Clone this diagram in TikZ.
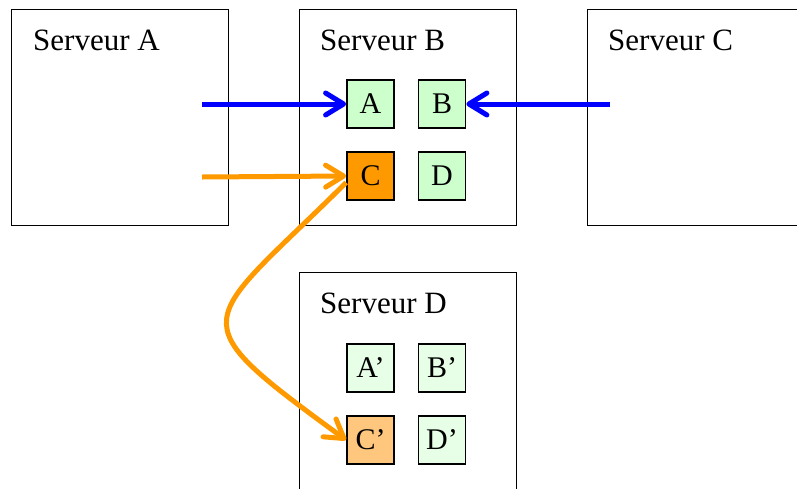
\documentclass[tikz,border=0pt]{standalone}
\usepackage{fontspec}
\setmainfont{Liberation Serif}
\usetikzlibrary{arrows.meta,calc}
\definecolor{cellgreen}{RGB}{204,255,204}
\definecolor{cellpale}{RGB}{230,255,230}
\definecolor{hotorange}{RGB}{255,153,0}
\definecolor{paleorange}{RGB}{255,198,125}
\definecolor{linkblue}{RGB}{0,0,255}
\begin{document}
\begin{tikzpicture}[x=1pt,y=-1pt,
  server/.style={draw=black,line width=1.4pt,minimum width=217pt,minimum height=216pt,inner sep=0pt,anchor=north west},
  servername/.style={anchor=base west,inner sep=0pt,font=\fontsize{31}{36}\selectfont},
  cell/.style={draw=black,line width=1.8pt,minimum width=47pt,minimum height=48pt,inner sep=0pt,font=\fontsize{30}{36}\selectfont},
  live/.style={cell,fill=cellgreen},
  copy/.style={cell,fill=cellpale},
  bluelink/.style={draw=linkblue,line width=5pt,-{Straight Barb[length=18pt,width=22pt,round]}},
  orangelink/.style={draw=hotorange,line width=5pt,-{Straight Barb[length=18pt,width=22pt,round]}}
]
\useasboundingbox (0,0) rectangle (797,488);

% servers (C and D run past the page edge)
\node[server] (SA) at (11,9) {};
\node[server] (SB) at (299,9) {};
\node[server] (SC) at (587,9) {};
\node[server,minimum height=240pt] (SD) at (299,272) {};
\node[servername] (nA) at ($(SA.north west)+(22,41)$) {Serveur A};
\node[servername] (nB) at ($(SB.north west)+(21,41)$) {Serveur B};
\node[servername] (nC) at ($(SC.north west)+(21,41)$) {Serveur C};
\node[servername] (nD) at ($(SD.north west)+(21,41)$) {Serveur D};

% cells of server B
\node[live] (A) at (370.5,104) {A};
\node[live] (B) at (442,104) {B};
\node[cell,fill=hotorange] (C) at (370.5,176) {C};
\node[live] (D) at (442,176) {D};

% cells of server D
\node[copy] (Ap) at (370.5,368) {A’};
\node[copy] (Bp) at (442,368) {B’};
\node[cell,fill=paleorange] (Cp) at (370.5,440) {C’};
\node[copy] (Dp) at (442,440) {D’};

% links
\coordinate (fromA1) at (202,104);
\coordinate (fromC) at (610,104);
\coordinate (fromA2) at (202,177);
\draw[bluelink] (fromA1) -- (A.west);
\draw[bluelink] (fromC) -- (B.east);
\draw[orangelink] (fromA2) -- (C.west);
\draw[orangelink] (C.195) .. controls (200,328) and (175,315) .. (Cp.west);
\end{tikzpicture}
\end{document}
